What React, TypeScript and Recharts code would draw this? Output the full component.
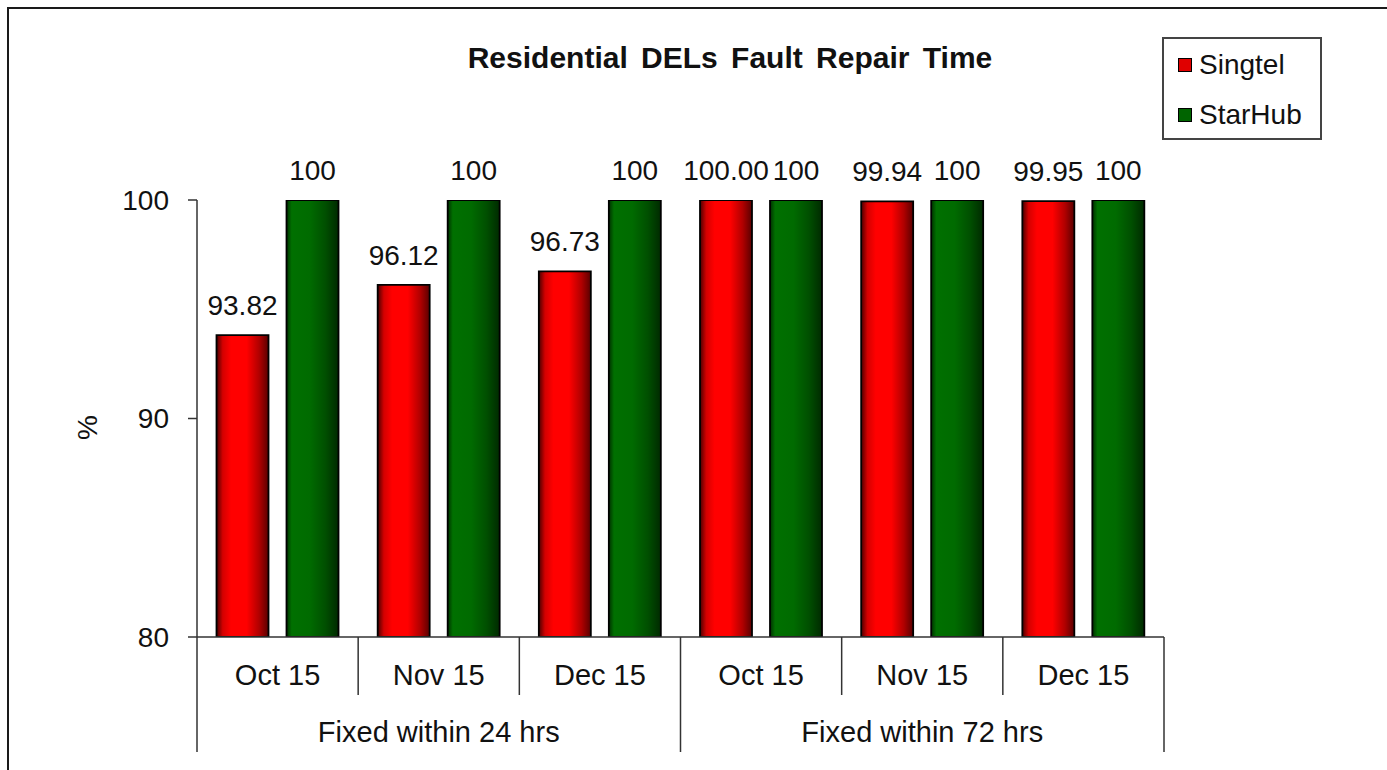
import { Bar, BarChart, LabelList, Legend, XAxis, YAxis, Label } from 'recharts'

const months = ['Oct 15', 'Nov 15', 'Dec 15', 'Oct 15', 'Nov 15', 'Dec 15']
const groups = [
  'Fixed within 24 hrs',
  'Fixed within 24 hrs',
  'Fixed within 24 hrs',
  'Fixed within 72 hrs',
  'Fixed within 72 hrs',
  'Fixed within 72 hrs',
]
const singtel = [93.82, 96.12, 96.73, 100.0, 99.94, 99.95]
const starhub = [100, 100, 100, 100, 100, 100]
const yTicks = [80, 90, 100]

const data = months.map((month, i) => ({
  month,
  group: groups[i],
  Singtel: singtel[i],
  StarHub: starhub[i],
}))

const FONT = '"Liberation Sans", Arial, sans-serif'
const INK = '#111'
const AXIS = '#333'

const CHART_W = 1378
const CHART_H = 761
const MARGIN = { top: 191, right: 223, bottom: 18, left: 0 }
const Y_AXIS_W = 188
const BAND = (CHART_W - MARGIN.right - MARGIN.left - Y_AXIS_W) / months.length
const MONTH_AXIS_H = 58
const GROUP_AXIS_H = 57

const legendColors: Record<string, string> = { Singtel: '#e00000', StarHub: '#006400' }

function MonthTick(props: any) {
  const { x, y, index } = props
  const left = x - BAND / 2
  const right = x + BAND / 2
  const groupEdge = index % 3 === 0
  const full = MONTH_AXIS_H + GROUP_AXIS_H
  return (
    <g>
      <line x1={left} y1={y} x2={left} y2={y + (groupEdge ? full : MONTH_AXIS_H)} stroke={AXIS} strokeWidth={1.5} />
      {index === months.length - 1 && (
        <line x1={right} y1={y} x2={right} y2={y + full} stroke={AXIS} strokeWidth={1.5} />
      )}
      <text x={x} y={y + 48} textAnchor="middle" fontSize={29} fill={INK} fontFamily={FONT}>
        {months[index]}
      </text>
    </g>
  )
}

function GroupTick(props: any) {
  const { x, y, payload } = props
  return (
    <text x={x} y={y + 47} textAnchor="middle" fontSize={29} fill={INK} fontFamily={FONT}>
      {payload.value}
    </text>
  )
}

function LegendBox(props: any) {
  const items: any[] = props.payload ?? []
  return (
    <div
      style={{
        width: 156,
        height: 98,
        border: '2px solid #444',
        background: '#fff',
        paddingTop: 1,
        fontFamily: FONT,
      }}
    >
      {items.map((it) => (
        <div key={it.value} style={{ display: 'flex', alignItems: 'center', height: 50, paddingLeft: 14 }}>
          <span
            style={{
              width: 12,
              height: 12,
              border: '1.5px solid #000',
              background: legendColors[it.value],
              marginRight: 7,
            }}
          />
          <span style={{ fontSize: 28, color: INK }}>{it.value}</span>
        </div>
      ))}
    </div>
  )
}

export default function App() {
  return (
    <div style={{ position: 'fixed', inset: 0, overflow: 'hidden', background: '#fff' }}>
      <div
        style={{
          position: 'absolute',
          left: 7,
          top: 7,
          width: 1420,
          height: 800,
          border: '2px solid #1a1a1a',
        }}
      >
        <BarChart
          width={CHART_W}
          height={CHART_H}
          data={data}
          margin={MARGIN}
          barCategoryGap={19.5}
          barGap={18}
          style={{ fontFamily: FONT }}
        >
          <defs>
            <linearGradient id="redGrad" x1="0" y1="0" x2="1" y2="0">
              <stop offset="0%" stopColor="#4a0000" />
              <stop offset="12%" stopColor="#d40000" />
              <stop offset="28%" stopColor="#ff0000" />
              <stop offset="58%" stopColor="#ff0000" />
              <stop offset="82%" stopColor="#b00000" />
              <stop offset="100%" stopColor="#5a0000" />
            </linearGradient>
            <linearGradient id="greenGrad" x1="0" y1="0" x2="1" y2="0">
              <stop offset="0%" stopColor="#003000" />
              <stop offset="10%" stopColor="#007000" />
              <stop offset="45%" stopColor="#006b00" />
              <stop offset="75%" stopColor="#004f00" />
              <stop offset="100%" stopColor="#002a00" />
            </linearGradient>
          </defs>
          <text
            x={721}
            y={59}
            textAnchor="middle"
            fontSize={30}
            fontWeight="bold"
            wordSpacing={5}
            fill={INK}
            fontFamily={FONT}
          >
            Residential DELs Fault Repair Time
          </text>
          {/* group row declared first, month row gets id "a" so it sits next to the plot */}
          <XAxis
            xAxisId="b"
            dataKey="group"
            allowDuplicatedCategory={false}
            height={GROUP_AXIS_H}
            interval={0}
            tickSize={0}
            tickMargin={0}
            tickLine={false}
            axisLine={false}
            tick={<GroupTick />}
          />
          <XAxis
            xAxisId="a"
            dataKey="month"
            height={MONTH_AXIS_H}
            interval={0}
            tickSize={0}
            tickMargin={0}
            tickLine={false}
            axisLine={{ stroke: AXIS, strokeWidth: 1.5 }}
            tick={<MonthTick />}
          />
          <YAxis
            width={Y_AXIS_W}
            domain={[80, 100]}
            ticks={yTicks}
            allowDataOverflow
            tickSize={9}
            tickMargin={19}
            axisLine={{ stroke: AXIS, strokeWidth: 1.5 }}
            tickLine={{ stroke: AXIS, strokeWidth: 1.5 }}
            tick={{ fontSize: 28, fill: INK, fontFamily: FONT }}
          >
            <Label
              content={(p: any) => {
                const vb = p.viewBox || {}
                const cx = (vb.x ?? 0) + 78
                const cy = (vb.y ?? 0) + (vb.height ?? 0) / 2 + 9
                return (
                  <text
                    x={cx}
                    y={cy}
                    transform={`rotate(-90 ${cx} ${cy})`}
                    textAnchor="middle"
                    dominantBaseline="central"
                    fontSize={28}
                    fill={INK}
                    fontFamily={FONT}
                  >
                    %
                  </text>
                )
              }}
            />
          </YAxis>
          <Legend
            layout="vertical"
            align="center"
            verticalAlign="middle"
            wrapperStyle={{ left: 1153, top: 28, width: 160 }}
            content={<LegendBox />}
          />
          <Bar
            xAxisId="a"
            dataKey="Singtel"
            fill="url(#redGrad)"
            stroke="#000"
            strokeWidth={1.8}
            isAnimationActive={false}
          >
            <LabelList
              dataKey="Singtel"
              position="top"
              offset={20}
              fontSize={28}
              fill={INK}
              fontFamily={FONT}
              formatter={(v: any) => Number(v).toFixed(2)}
            />
          </Bar>
          <Bar
            xAxisId="a"
            dataKey="StarHub"
            fill="url(#greenGrad)"
            stroke="#000"
            strokeWidth={1.8}
            isAnimationActive={false}
          >
            <LabelList
              dataKey="StarHub"
              position="top"
              offset={20}
              fontSize={28}
              fill={INK}
              fontFamily={FONT}
              formatter={(v: any) => String(Math.round(Number(v)))}
            />
          </Bar>
        </BarChart>
      </div>
    </div>
  )
}
